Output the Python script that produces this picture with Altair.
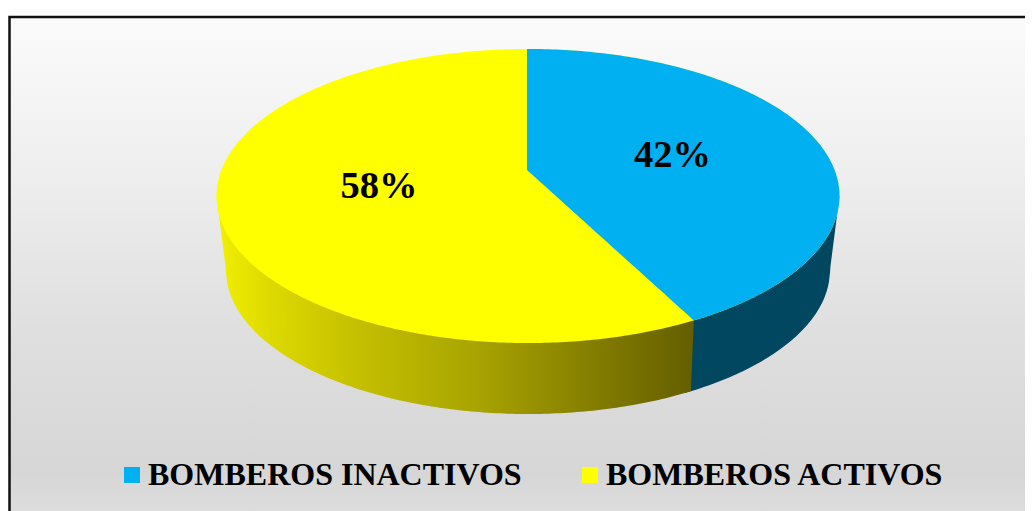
import numpy as np
import pandas as pd
import altair as alt

series = ["BOMBEROS INACTIVOS", "BOMBEROS ACTIVOS"]
shares = [42.4, 57.6]
colors = ["#00B0F0", "#FFFF00"]
bg_stops = [(0.0, "#fbfbfb"), (0.3, "#eeeeee"), (0.6, "#dfdfdf"), (0.87, "#d6d6d6"), (1.0, "#e2e2e2")]
yellow_side_stops = [(0.0, "#f2f000"), (0.12, "#dcd800"), (0.3, "#c4bf00"), (0.55, "#a8a300"), (0.8, "#827c00"), (1.0, "#645e00")]
blue_side = "#00475F"

# pie geometry in picture pixels (perspective view of a disc)
CX, CY, A, B = 528.0, 196.0, 311.5, 147.0     # top face ellipse
LCX, LCY, LA, LB = 528.0, 270.0, 302.0, 144.0 # bottom face ellipse
AX, AY = 527.0, 170.0                          # pie centre as seen in perspective
PERSP = -0.1769                                # foreshortening of the disc

xs = alt.Scale(domain=[8, 1025], range=[0, 1017])
ys = alt.Scale(domain=[8, 511], range=[0, 503])


def upper(x):
    return CY - B * np.sqrt(np.clip(1 - ((x - CX) / A) ** 2, 0, 1))


def lower(x):
    return CY + B * np.sqrt(np.clip(1 - ((x - CX) / A) ** 2, 0, 1))


def side_bottom(x):
    out = LCY + LB * np.sqrt(np.clip(1 - ((x - LCX) / LA) ** 2, 0, 1))
    left = LCX - LA
    right = LCX + LA
    out = np.where(x < left, CY + (x - (CX - A)) * (LCY - CY) / (left - (CX - A)), out)
    out = np.where(x > right, CY + ((CX + A) - x) * (LCY - CY) / ((CX + A) - right), out)
    return out


# split point of the two slices, from the share of the first one
th = 2 * np.pi * shares[0] / sum(shares)
w = 1 + PERSP * (-np.cos(th))
split_x = float(AX + 306 * np.sin(th) / w)
split_y = float(lower(split_x))

t = np.linspace(0, np.pi, 241)
top_x = CX - A * np.cos(t)

whole = pd.DataFrame({"x": top_x, "y": upper(top_x), "y2": lower(top_x), "series": series[1]})
bx = np.unique(np.concatenate([[AX, split_x], top_x[top_x > AX]]))
by2 = np.where(
    bx <= split_x,
    AY + (bx - AX) * (split_y - AY) / (split_x - AX),
    lower(bx),
)
wedge = pd.DataFrame({"x": bx, "y": upper(bx), "y2": by2, "series": series[0]})
top_df = pd.concat([whole, wedge], ignore_index=True)

sx = np.unique(np.concatenate([top_x, [CX - A + 9], [CX + A - 9]]))
ysb = split_x - 3
side_yellow_x = np.concatenate([sx[sx < ysb], [ysb, split_x]])
side_yellow_bot = np.concatenate([side_bottom(sx[sx < ysb]), [float(side_bottom(np.array(ysb)))], [split_y]])
side_y = pd.DataFrame({"x": side_yellow_x, "y": CY, "y2": side_yellow_bot})
sbx = sx[sx > ysb - 10]
side_b = pd.DataFrame({"x": sbx, "y": CY, "y2": side_bottom(sbx)})


def grad(stops, horizontal):
    return alt.Gradient(
        gradient="linear",
        stops=[alt.GradientStop(offset=o, color=c) for o, c in stops],
        x1=0, y1=0,
        x2=1 if horizontal else 0,
        y2=0 if horizontal else 1,
    )


bg = alt.Chart(pd.DataFrame({"x": [9.5], "x2": [1060], "y": [17], "y2": [540]})).mark_rect(
    color=grad(bg_stops, False), stroke="#111111", strokeWidth=2.5
).encode(
    x=alt.X("x:Q", scale=xs, axis=None), x2="x2:Q",
    y=alt.Y("y:Q", scale=ys, axis=None), y2="y2:Q",
)


def area(df, **kw):
    return alt.Chart(df).mark_area(**kw).encode(
        x=alt.X("x:Q", scale=xs, axis=None),
        y=alt.Y("y:Q", scale=ys, axis=None, stack=None),
        y2="y2:Q",
    )


blue_band = area(side_b, color=blue_side)
yellow_band = area(side_y, color=grad(yellow_side_stops, True))

top = alt.Chart(top_df).mark_area(opacity=1).encode(
    x=alt.X("x:Q", scale=xs, axis=None),
    y=alt.Y("y:Q", scale=ys, axis=None, stack=None),
    y2="y2:Q",
    color=alt.Color(
        "series:N",
        scale=alt.Scale(domain=series, range=colors),
        legend=alt.Legend(
            orient="none", legendX=108, legendY=451, direction="horizontal", title=None,
            symbolType="square", symbolSize=256, symbolStrokeWidth=0, symbolOpacity=1,
            labelFont="Liberation Serif", labelFontSize=32, labelFontWeight="bold",
            labelColor="#000000", labelLimit=600, labelOffset=0, columnPadding=52,
            columns=2, padding=0,
        ),
    ),
)

lab = pd.DataFrame({
    "x": [672.5, 379.0],
    "y": [155.0, 186.0],
    "t": [f"{round(s)}%" for s in shares],
})
labels = alt.Chart(lab).mark_text(
    font="Liberation Serif", fontSize=38.5, fontWeight="bold", color="#000000"
).encode(
    x=alt.X("x:Q", scale=xs, axis=None),
    y=alt.Y("y:Q", scale=ys, axis=None),
    text="t:N",
)

chart = alt.layer(bg, blue_band, yellow_band, top, labels).properties(
    width=1017, height=503, padding=0,
    autosize=alt.AutoSizeParams(type="none"),
    background="#ffffff",
).configure_view(stroke=None)

chart.save("out.html", embed_options={"renderer": "svg", "actions": False})
